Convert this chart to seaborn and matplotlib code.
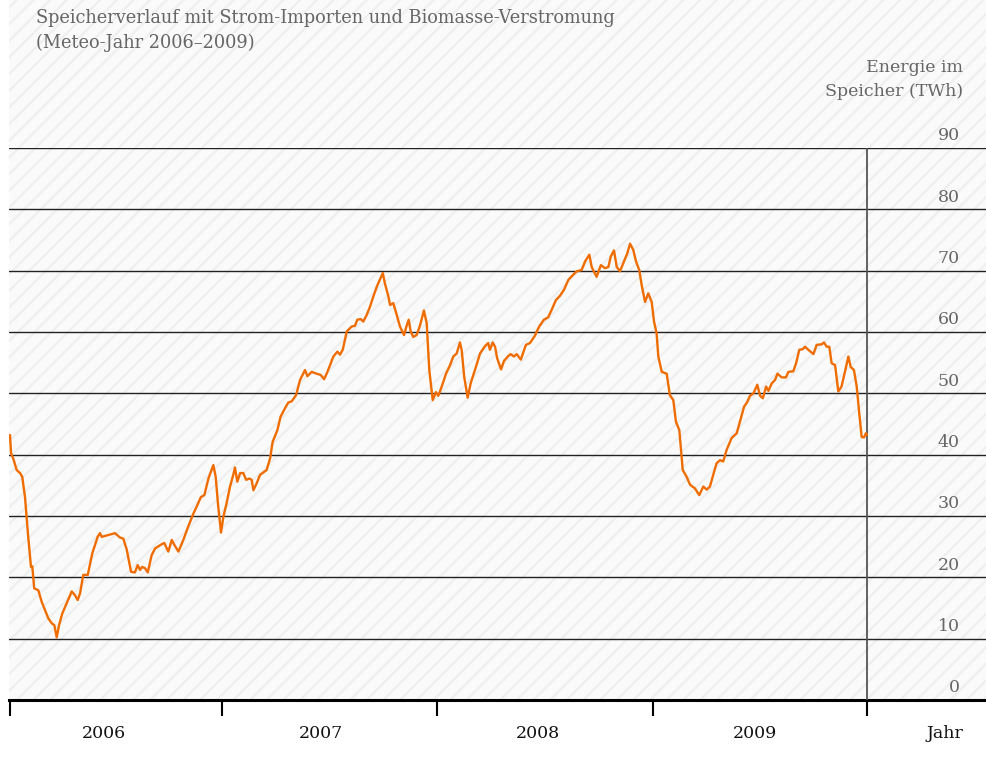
import numpy as np
import pandas as pd
import matplotlib
matplotlib.use("Agg")
import matplotlib.pyplot as plt
import matplotlib.transforms as mtransforms
from matplotlib.patches import Rectangle
import seaborn as sns

# Zeit in Jahren seit 1.1.2006, Energie im Speicher in TWh
jahre_seit_2006 = [
    0.000, 0.005, 0.015, 0.031, 0.047, 0.057, 0.070, 0.085, 0.098, 0.104,
    0.113, 0.132, 0.148, 0.163, 0.179, 0.195, 0.207, 0.218, 0.229, 0.244,
    0.265, 0.288, 0.303, 0.316, 0.327, 0.342, 0.363, 0.384, 0.409, 0.420,
    0.428, 0.459, 0.490, 0.513, 0.529, 0.545, 0.565, 0.583, 0.596, 0.607,
    0.617, 0.630, 0.643, 0.661, 0.677, 0.695, 0.708, 0.720, 0.739, 0.755,
    0.767, 0.786, 0.809, 0.832, 0.856, 0.871, 0.891, 0.907, 0.926, 0.949,
    0.960, 0.972, 0.985, 0.996, 1.011, 1.027, 1.042, 1.050, 1.061, 1.074,
    1.089, 1.102, 1.117, 1.128, 1.136, 1.151, 1.167, 1.186, 1.198, 1.214,
    1.226, 1.248, 1.263, 1.284, 1.299, 1.315, 1.335, 1.354, 1.377, 1.388,
    1.408, 1.431, 1.450, 1.466, 1.478, 1.494, 1.509, 1.528, 1.540, 1.553,
    1.572, 1.595, 1.610, 1.621, 1.637, 1.649, 1.665, 1.680, 1.696, 1.712,
    1.727, 1.740, 1.750, 1.766, 1.774, 1.789, 1.805, 1.820, 1.839, 1.852,
    1.861, 1.870, 1.882, 1.898, 1.914, 1.932, 1.945, 1.957, 1.973, 1.988,
    1.999, 2.015, 2.035, 2.054, 2.069, 2.085, 2.100, 2.108, 2.120, 2.136,
    2.150, 2.170, 2.194, 2.217, 2.232, 2.240, 2.253, 2.264, 2.274, 2.292,
    2.306, 2.326, 2.337, 2.352, 2.365, 2.384, 2.408, 2.427, 2.450, 2.470,
    2.492, 2.512, 2.528, 2.548, 2.567, 2.586, 2.606, 2.622, 2.645, 2.668,
    2.684, 2.704, 2.715, 2.738, 2.758, 2.777, 2.793, 2.804, 2.819, 2.832,
    2.847, 2.866, 2.881, 2.894, 2.909, 2.922, 2.937, 2.948, 2.964, 2.979,
    2.995, 3.006, 3.018, 3.026, 3.042, 3.065, 3.080, 3.096, 3.108, 3.124,
    3.140, 3.158, 3.174, 3.197, 3.217, 3.236, 3.252, 3.267, 3.283, 3.298,
    3.314, 3.329, 3.345, 3.368, 3.392, 3.407, 3.426, 3.441, 3.454, 3.470,
    3.488, 3.501, 3.514, 3.529, 3.540, 3.555, 3.571, 3.582, 3.602, 3.622,
    3.633, 3.656, 3.669, 3.684, 3.700, 3.711, 3.726, 3.750, 3.765, 3.789,
    3.799, 3.812, 3.824, 3.835, 3.851, 3.866, 3.881, 3.897, 3.913, 3.924,
    3.939, 3.952, 3.964, 3.975, 3.986, 3.995, 4.000,
]
energie_twh = [
    43.2, 40.2, 39.4, 37.5, 37.0, 36.4, 33.1, 26.6, 21.7, 21.8,
    18.2, 17.9, 16.0, 14.7, 13.3, 12.5, 12.2, 10.2, 12.2, 14.1,
    15.8, 17.7, 17.1, 16.3, 17.4, 20.4, 20.4, 23.9, 26.6, 27.2,
    26.6, 26.9, 27.2, 26.5, 26.3, 24.5, 20.9, 20.8, 22.0, 21.2,
    21.7, 21.5, 20.8, 23.6, 24.7, 25.1, 25.4, 25.6, 24.2, 26.1,
    25.3, 24.2, 26.1, 28.3, 30.4, 31.5, 33.1, 33.4, 36.1, 38.3,
    36.4, 31.5, 27.3, 29.9, 32.1, 34.8, 36.7, 37.9, 35.6, 37.0,
    37.0, 35.9, 36.1, 35.9, 34.2, 35.3, 36.7, 37.2, 37.5, 39.4,
    42.1, 44.0, 46.2, 47.6, 48.5, 48.7, 49.7, 52.2, 53.8, 52.8,
    53.5, 53.2, 53.0, 52.3, 53.2, 54.6, 56.0, 56.8, 56.3, 57.1,
    60.1, 60.9, 61.0, 62.0, 62.1, 61.7, 62.8, 64.1, 65.8, 67.4,
    68.6, 69.6, 67.9, 65.8, 64.4, 64.7, 62.8, 60.9, 59.5, 61.1,
    62.0, 60.1, 59.2, 59.5, 61.1, 63.5, 61.4, 53.8, 48.9, 50.2,
    49.6, 51.1, 53.2, 54.6, 56.0, 56.5, 58.3, 57.1, 52.7, 49.3,
    51.6, 53.8, 56.5, 57.7, 58.2, 57.1, 58.3, 57.6, 55.7, 53.9,
    55.3, 56.1, 56.4, 56.0, 56.4, 55.5, 57.9, 58.2, 59.4, 60.9,
    62.0, 62.4, 63.6, 65.2, 65.9, 66.9, 68.5, 69.1, 69.9, 70.1,
    71.5, 72.6, 70.6, 69.0, 70.9, 70.4, 70.6, 72.3, 73.3, 70.6,
    69.9, 71.5, 72.8, 74.4, 73.4, 71.5, 70.1, 67.7, 64.9, 66.3,
    64.9, 61.7, 59.8, 56.0, 53.5, 53.2, 49.7, 48.9, 45.4, 44.0,
    37.5, 36.4, 35.1, 34.5, 33.4, 34.8, 34.3, 34.8, 36.8, 38.6,
    39.1, 38.9, 40.8, 42.7, 43.5, 45.4, 47.8, 48.6, 49.6, 50.0,
    51.4, 49.6, 49.2, 51.1, 50.4, 51.6, 52.2, 53.2, 52.6, 52.6,
    53.5, 53.6, 54.9, 57.1, 57.2, 57.6, 57.1, 56.4, 57.9, 58.0,
    58.3, 57.6, 57.6, 54.9, 54.6, 50.3, 51.1, 53.5, 56.0, 54.3,
    53.8, 51.1, 46.7, 42.9, 42.8, 43.5, 43.2,
]
jahr_labels = ["2006", "2007", "2008", "2009"]
y_ticks = [0, 10, 20, 30, 40, 50, 60, 70, 80, 90]

df = pd.DataFrame({"t": jahre_seit_2006, "e": energie_twh})

sns.set_theme(style="white")
plt.rcParams["font.family"] = ["DejaVu Serif"]
plt.rcParams["hatch.linewidth"] = 1.6
plt.rcParams["hatch.color"] = "#efefef"

W, H = 986, 773
fig = plt.figure(figsize=(W / 100, H / 100), dpi=100)
fig.patch.set_facecolor("white")

# hatched background (figure area above x axis)
bg = Rectangle((9 / W, (H - 700) / H), 1 - 9 / W, 700 / H, transform=fig.transFigure,
               facecolor="#fafafa", edgecolor="#efefef", hatch="//", lw=0, zorder=-10)
fig.patches.append(bg)

ax = fig.add_axes([9 / W, (H - 700) / H, (W - 9) / W, (700 - 148) / H])
ax.set_facecolor("none")

sns.lineplot(data=df, x="t", y="e", ax=ax, color="#ef6c00", linewidth=1.7,
             estimator=None, sort=False, zorder=5)

px_per_year = (867 - 10) / 4.0
ax.set_xlim(-1 / px_per_year, (986 - 10) / px_per_year)
ax.set_ylim(0, 90)

for v in y_ticks[1:]:
    ax.axhline(v, color="#222222", lw=1.0, zorder=2)
ax.axvline(4, color="#555555", lw=1.3, zorder=3)

for s in ["top", "left", "right"]:
    ax.spines[s].set_visible(False)
ax.spines["bottom"].set_color("black")
ax.spines["bottom"].set_linewidth(2.2)

ax.set_xticks([0, 0.99, 1.995, 3.0, 4.0])
ax.set_xticklabels([])
ax.tick_params(axis="x", direction="out", length=11.5, width=1.5, color="black", bottom=True)
ax.set_yticks([])
ax.set_xlabel("")
ax.set_ylabel("")

# y labels, right aligned above gridlines
ytr = mtransforms.offset_copy(ax.get_yaxis_transform(), fig=fig, x=0, y=5.5, units="points")
for v in y_ticks:
    ax.text((960 - 9) / (W - 9), v, str(v), transform=ytr, ha="right", va="baseline",
            fontsize=12.5, color="#666666")

# year labels (label centres as placed in the original)
label_pos = [0.440, 1.452, 2.464, 3.479]
xtr = mtransforms.offset_copy(ax.get_xaxis_transform(), fig=fig, x=0, y=-24, units="points")
for pos, lab in zip(label_pos, jahr_labels):
    ax.text(pos, 0, lab, transform=xtr, ha="center", va="center", fontsize=12.5, color="#111111")
ax.text((963 - 10) / px_per_year, 0, "Jahr", transform=xtr, ha="right", va="center",
        fontsize=12.5, color="#111111")

# axis title
fig.text(963 / W, 1 - 68 / H, "Energie im", ha="right", va="center", fontsize=12.5, color="#666666")
fig.text(963 / W, 1 - 92 / H, "Speicher (TWh)", ha="right", va="center", fontsize=12.5, color="#666666")

# chart title
fig.text(36 / W, 1 - 18 / H, "Speicherverlauf mit Strom-Importen und Biomasse-Verstromung",
         ha="left", va="center", fontsize=12.8, color="#666666")
fig.text(36 / W, 1 - 43 / H, "(Meteo-Jahr 2006\u20132009)", ha="left", va="center",
         fontsize=12.8, color="#666666")

fig.savefig("out.png", dpi=100)
